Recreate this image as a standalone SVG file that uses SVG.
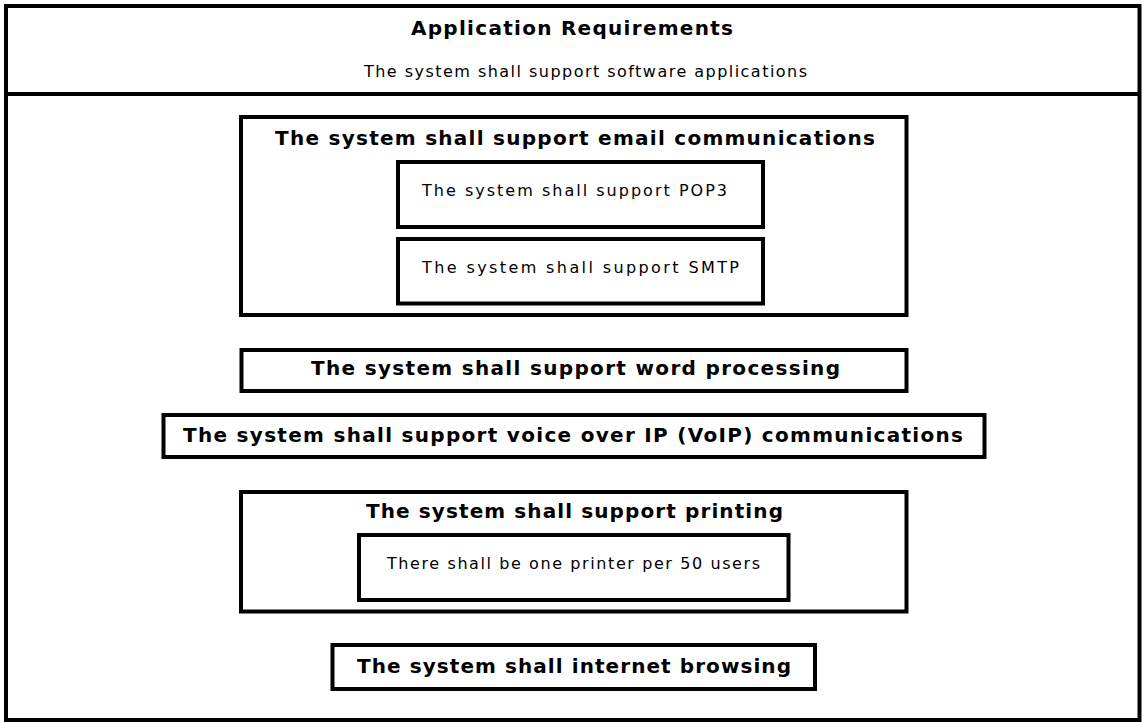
<svg xmlns="http://www.w3.org/2000/svg" width="1144" height="722" viewBox="0 0 1144 722">
<style>
.box{fill:#fff;stroke:#000;stroke-width:4}
.b{font-family:"DejaVu Sans","Liberation Sans",Arial,sans-serif;font-weight:bold;font-size:20px;fill:#000}
.r{font-family:"DejaVu Sans","Liberation Sans",Arial,sans-serif;font-size:16px;fill:#000}
</style>
<rect x="0" y="0" width="1144" height="722" fill="#fff"/>
<g id="app-requirements">
<rect class="box" x="6" y="6" width="1133.5" height="714"/>
<line x1="6" y1="94" x2="1139.5" y2="94" stroke="#000" stroke-width="4"/>
<text class="b" x="411" y="35" textLength="322" lengthAdjust="spacing">Application Requirements</text>
<text class="r" x="364" y="77" textLength="443" lengthAdjust="spacing">The system shall support software applications</text>
</g>
<g id="email">
<rect class="box" x="241" y="117" width="665.5" height="198"/>
<text class="b" x="275" y="145" textLength="600" lengthAdjust="spacing">The system shall support email communications</text>
</g>
<g id="pop3">
<rect class="box" x="398" y="162" width="365" height="65"/>
<text class="r" x="422" y="196" textLength="305" lengthAdjust="spacing">The system shall support POP3</text>
</g>
<g id="smtp">
<rect class="box" x="398" y="239" width="365" height="64.5"/>
<text class="r" x="422" y="273" textLength="317" lengthAdjust="spacing">The system shall support SMTP</text>
</g>
<g id="word-processing">
<rect class="box" x="241.5" y="350" width="665" height="41"/>
<text class="b" x="311" y="375" textLength="529" lengthAdjust="spacing">The system shall support word processing</text>
</g>
<g id="voip">
<rect class="box" x="163.5" y="415" width="821" height="42"/>
<text class="b" x="183" y="442" textLength="780" lengthAdjust="spacing">The system shall support voice over IP (VoIP) communications</text>
</g>
<g id="printing">
<rect class="box" x="241" y="492" width="665.5" height="119.5"/>
<text class="b" x="366" y="518" textLength="417" lengthAdjust="spacing">The system shall support printing</text>
</g>
<g id="printer-ratio">
<rect class="box" x="359" y="535" width="429.5" height="65"/>
<text class="r" x="387" y="569" textLength="373" lengthAdjust="spacing">There shall be one printer per 50 users</text>
</g>
<g id="internet-browsing">
<rect class="box" x="332.5" y="645" width="482.5" height="44"/>
<text class="b" x="357" y="673" textLength="434" lengthAdjust="spacing">The system shall internet browsing</text>
</g>
<g id="connectors"/>
</svg>
